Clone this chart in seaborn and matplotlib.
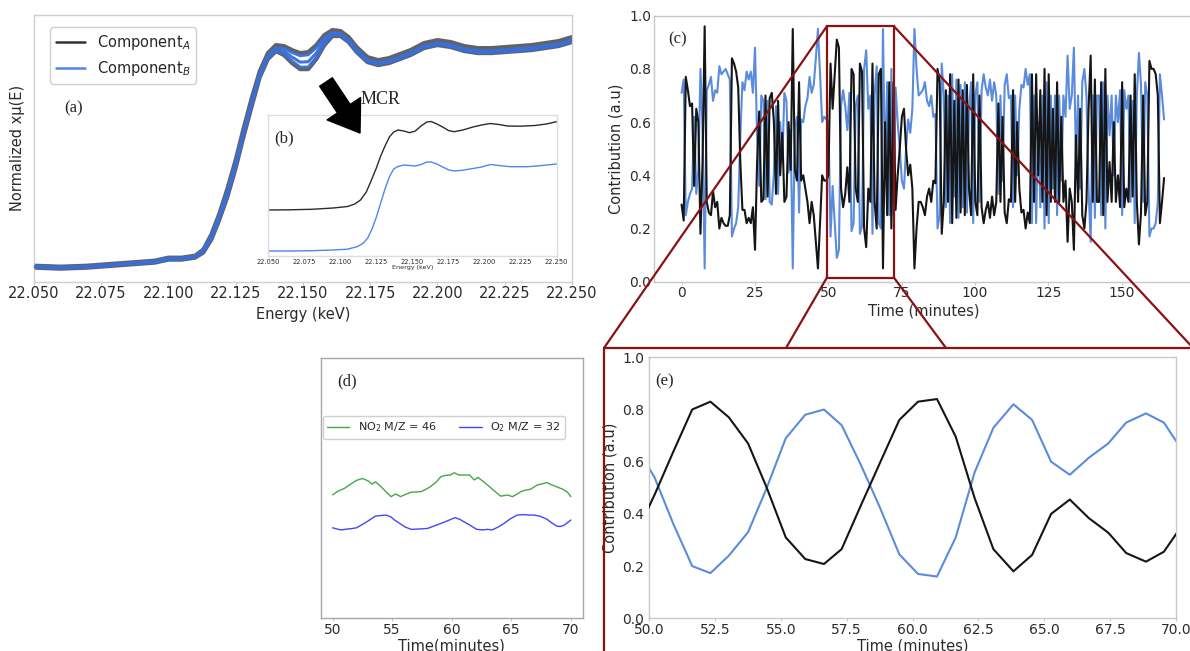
import numpy as np
import matplotlib
matplotlib.use("Agg")
import matplotlib.pyplot as plt
import seaborn as sns
from matplotlib.lines import Line2D
from matplotlib.patches import Rectangle, ConnectionPatch
from matplotlib.ticker import FormatStrFormatter, MultipleLocator

# ---------------------------------------------------------------- data
# (a) normalised XANES spectra, Component A (black) and Component B (blue)
ENERGY_A = [22.050, 22.060, 22.070, 22.080, 22.090, 22.095, 22.100, 22.105,
            22.110, 22.113, 22.116, 22.119, 22.122, 22.125, 22.128, 22.131,
            22.134, 22.137, 22.140, 22.143, 22.146, 22.149, 22.152, 22.155,
            22.158, 22.161, 22.164, 22.167, 22.170, 22.174, 22.178, 22.182,
            22.186, 22.190, 22.195, 22.200, 22.205, 22.210, 22.215, 22.220,
            22.225, 22.230, 22.235, 22.240, 22.245, 22.250]
SPEC_A_UPPER = [0.005, 0.000, 0.005, 0.015, 0.025, 0.030, 0.045, 0.045,
                0.055, 0.085, 0.160, 0.265, 0.390, 0.530, 0.690, 0.840,
                0.975, 1.065, 1.105, 1.100, 1.080, 1.065, 1.070, 1.105,
                1.155, 1.180, 1.175, 1.145, 1.095, 1.045, 1.030, 1.040,
                1.060, 1.080, 1.115, 1.130, 1.120, 1.100, 1.090, 1.090,
                1.095, 1.100, 1.105, 1.115, 1.125, 1.145]
SPEC_A_LOWER = [-0.005, -0.010, -0.005, 0.005, 0.015, 0.020, 0.035, 0.035,
                0.045, 0.070, 0.135, 0.235, 0.350, 0.490, 0.650, 0.800,
                0.945, 1.035, 1.075, 1.055, 1.015, 0.985, 0.985, 1.035,
                1.105, 1.150, 1.150, 1.120, 1.070, 1.020, 1.005, 1.015,
                1.035, 1.055, 1.090, 1.105, 1.095, 1.075, 1.065, 1.065,
                1.070, 1.075, 1.080, 1.090, 1.100, 1.120]
SPEC_B_1 = [0.002, -0.003, 0.002, 0.012, 0.022, 0.028, 0.042, 0.042,
            0.052, 0.082, 0.152, 0.255, 0.375, 0.515, 0.675, 0.825,
            0.962, 1.052, 1.092, 1.088, 1.068, 1.052, 1.057, 1.092,
            1.142, 1.167, 1.162, 1.132, 1.082, 1.032, 1.017, 1.027,
            1.047, 1.067, 1.102, 1.117, 1.107, 1.087, 1.077, 1.077,
            1.082, 1.087, 1.092, 1.102, 1.112, 1.132]
SPEC_B_2 = [0.000, -0.005, 0.000, 0.010, 0.020, 0.025, 0.040, 0.040,
            0.050, 0.080, 0.150, 0.250, 0.370, 0.510, 0.670, 0.820,
            0.960, 1.050, 1.090, 1.075, 1.045, 1.020, 1.022, 1.065,
            1.125, 1.162, 1.158, 1.128, 1.078, 1.028, 1.013, 1.023,
            1.043, 1.063, 1.098, 1.113, 1.103, 1.083, 1.073, 1.073,
            1.078, 1.083, 1.088, 1.098, 1.108, 1.128]
SPEC_B_3 = [-0.003, -0.008, -0.003, 0.007, 0.017, 0.022, 0.037, 0.037,
            0.047, 0.075, 0.142, 0.242, 0.360, 0.500, 0.660, 0.810,
            0.952, 1.042, 1.080, 1.062, 1.025, 0.995, 0.995, 1.042,
            1.110, 1.155, 1.153, 1.123, 1.073, 1.023, 1.008, 1.018,
            1.038, 1.058, 1.093, 1.108, 1.098, 1.078, 1.068, 1.068,
            1.073, 1.078, 1.083, 1.093, 1.103, 1.123]

# (b) resolved pure-component spectra from MCR
ENERGY_B_BLACK = [22.050, 22.065, 22.080, 22.095, 22.105, 22.110, 22.114, 22.118,
                  22.121, 22.125, 22.128, 22.131, 22.134, 22.137, 22.140, 22.144,
                  22.148, 22.152, 22.156, 22.160, 22.163, 22.167, 22.171, 22.175,
                  22.179, 22.185, 22.192, 22.198, 22.204, 22.210, 22.216, 22.225,
                  22.235, 22.243, 22.250]
MCR_A = [0.460, 0.462, 0.467, 0.480, 0.495, 0.520, 0.560, 0.640,
         0.740, 0.880, 1.000, 1.100, 1.190, 1.240, 1.260, 1.250,
         1.233, 1.250, 1.300, 1.340, 1.345, 1.320, 1.290, 1.255,
         1.243, 1.260, 1.290, 1.310, 1.325, 1.315, 1.300, 1.298,
         1.305, 1.320, 1.343]
ENERGY_B_BLUE = [22.050, 22.065, 22.080, 22.095, 22.105, 22.112, 22.116, 22.119,
                 22.122, 22.125, 22.128, 22.131, 22.134, 22.137, 22.140, 22.144,
                 22.148, 22.152, 22.156, 22.160, 22.163, 22.167, 22.171, 22.175,
                 22.179, 22.185, 22.192, 22.198, 22.204, 22.210, 22.218, 22.230,
                 22.240, 22.250]
MCR_B = [0.050, 0.050, 0.053, 0.060, 0.068, 0.095, 0.130, 0.180,
         0.270, 0.390, 0.530, 0.670, 0.790, 0.870, 0.895, 0.910,
         0.905, 0.900, 0.915, 0.940, 0.940, 0.920, 0.890, 0.862,
         0.850, 0.858, 0.875, 0.890, 0.915, 0.905, 0.893, 0.893,
         0.905, 0.920]

# (c) contributions over the whole run, sampled every 0.715 min
C_STEP = 0.715
C_BLACK = [0.29, 0.23, 0.77, 0.72, 0.66, 0.67, 0.36, 0.65, 0.60, 0.18,
           0.45, 0.96, 0.30, 0.26, 0.25, 0.34, 0.28, 0.30, 0.20, 0.24,
           0.22, 0.21, 0.21, 0.25, 0.84, 0.82, 0.79, 0.73, 0.45, 0.27,
           0.27, 0.22, 0.24, 0.22, 0.28, 0.12, 0.45, 0.64, 0.30, 0.31,
           0.70, 0.32, 0.69, 0.71, 0.60, 0.33, 0.68, 0.40, 0.56, 0.30,
           0.32, 0.60, 0.42, 0.95, 0.42, 0.38, 0.75, 0.38, 0.40, 0.35,
           0.30, 0.22, 0.30, 0.25, 0.15, 0.05, 0.22, 0.40, 0.38, 0.38,
           0.40, 0.82, 0.65, 0.78, 0.91, 0.88, 0.35, 0.28, 0.33, 0.43,
           0.30, 0.80, 0.78, 0.35, 0.30, 0.82, 0.79, 0.20, 0.13, 0.35,
           0.30, 0.82, 0.30, 0.20, 0.78, 0.80, 0.05, 0.60, 0.25, 0.75,
           0.20, 0.75, 0.27, 0.40, 0.50, 0.62, 0.65, 0.50, 0.40, 0.44,
           0.35, 0.05, 0.20, 0.30, 0.30, 0.28, 0.25, 0.32, 0.35, 0.30,
           0.38, 0.37, 0.80, 0.75, 0.18, 0.30, 0.72, 0.30, 0.78, 0.22,
           0.68, 0.24, 0.76, 0.26, 0.72, 0.25, 0.74, 0.35, 0.25, 0.78,
           0.30, 0.25, 0.70, 0.28, 0.22, 0.27, 0.30, 0.24, 0.32, 0.25,
           0.30, 0.67, 0.30, 0.62, 0.26, 0.22, 0.31, 0.30, 0.72, 0.30,
           0.60, 0.35, 0.26, 0.27, 0.20, 0.26, 0.22, 0.78, 0.30, 0.78,
           0.40, 0.72, 0.30, 0.80, 0.25, 0.78, 0.30, 0.65, 0.30, 0.75,
           0.30, 0.62, 0.30, 0.38, 0.15, 0.35, 0.30, 0.12, 0.55, 0.30,
           0.65, 0.25, 0.20, 0.30, 0.65, 0.85, 0.30, 0.76, 0.30, 0.30,
           0.75, 0.25, 0.80, 0.30, 0.45, 0.30, 0.60, 0.30, 0.40, 0.28,
           0.75, 0.28, 0.35, 0.30, 0.70, 0.32, 0.78, 0.30, 0.14, 0.26,
           0.70, 0.25, 0.30, 0.83, 0.80, 0.80, 0.78, 0.70, 0.22, 0.30, 0.39]
C_BLUE = [0.71, 0.76, 0.25, 0.30, 0.33, 0.35, 0.62, 0.33, 0.42, 0.80,
          0.57, 0.05, 0.72, 0.74, 0.77, 0.68, 0.72, 0.71, 0.81, 0.78,
          0.79, 0.80, 0.78, 0.76, 0.17, 0.20, 0.22, 0.28, 0.55, 0.75,
          0.72, 0.79, 0.76, 0.79, 0.71, 0.88, 0.55, 0.36, 0.70, 0.68,
          0.31, 0.68, 0.30, 0.29, 0.41, 0.66, 0.33, 0.60, 0.45, 0.71,
          0.68, 0.41, 0.57, 0.05, 0.58, 0.62, 0.26, 0.61, 0.60, 0.66,
          0.69, 0.77, 0.71, 0.74, 0.84, 0.95, 0.78, 0.60, 0.62, 0.61,
          0.60, 0.17, 0.36, 0.22, 0.09, 0.12, 0.66, 0.72, 0.66, 0.57,
          0.71, 0.19, 0.22, 0.66, 0.70, 0.18, 0.21, 0.80, 0.87, 0.65,
          0.70, 0.18, 0.70, 0.81, 0.22, 0.20, 0.95, 0.40, 0.75, 0.25,
          0.80, 0.25, 0.73, 0.60, 0.50, 0.38, 0.35, 0.50, 0.61, 0.56,
          0.65, 0.95, 0.80, 0.70, 0.71, 0.72, 0.75, 0.68, 0.66, 0.70,
          0.62, 0.63, 0.20, 0.25, 0.82, 0.70, 0.28, 0.70, 0.22, 0.78,
          0.32, 0.76, 0.24, 0.74, 0.28, 0.75, 0.26, 0.65, 0.75, 0.22,
          0.70, 0.75, 0.30, 0.72, 0.78, 0.73, 0.70, 0.76, 0.68, 0.75,
          0.70, 0.33, 0.70, 0.38, 0.74, 0.78, 0.69, 0.70, 0.28, 0.70,
          0.40, 0.65, 0.74, 0.73, 0.80, 0.74, 0.78, 0.22, 0.70, 0.22,
          0.60, 0.28, 0.70, 0.20, 0.75, 0.22, 0.70, 0.35, 0.70, 0.25,
          0.70, 0.38, 0.70, 0.62, 0.85, 0.65, 0.70, 0.88, 0.45, 0.70,
          0.35, 0.75, 0.80, 0.70, 0.35, 0.15, 0.70, 0.24, 0.70, 0.70,
          0.25, 0.75, 0.20, 0.70, 0.55, 0.70, 0.40, 0.70, 0.60, 0.72,
          0.25, 0.72, 0.65, 0.70, 0.30, 0.68, 0.22, 0.70, 0.86, 0.74,
          0.30, 0.75, 0.70, 0.17, 0.20, 0.20, 0.22, 0.30, 0.78, 0.70, 0.61]

# (d) mass-spectrometer signals, 50-70 min
MS_TIME_NO2 = [50.0, 50.5, 51.0, 51.5, 52.0, 52.5, 53.0, 53.3, 53.6, 54.0,
               54.5, 54.9, 55.3, 55.7, 56.2, 56.6, 57.0, 57.4, 57.8, 58.2,
               58.7, 59.1, 59.5, 59.9, 60.2, 60.6, 61.0, 61.5, 61.9, 62.2,
               62.6, 63.0, 63.5, 64.1, 64.7, 65.1, 65.5, 65.8, 66.2, 66.6,
               67.2, 67.6, 68.0, 68.4, 68.8, 69.3, 69.7, 70.0]
MS_NO2 = [0.475, 0.490, 0.500, 0.516, 0.530, 0.538, 0.528, 0.516, 0.525, 0.509,
          0.486, 0.468, 0.478, 0.468, 0.478, 0.485, 0.486, 0.487, 0.495, 0.506,
          0.524, 0.545, 0.550, 0.551, 0.560, 0.551, 0.551, 0.551, 0.532, 0.542,
          0.528, 0.513, 0.493, 0.470, 0.474, 0.468, 0.478, 0.487, 0.493, 0.496,
          0.513, 0.517, 0.522, 0.513, 0.506, 0.497, 0.486, 0.468]
MS_TIME_O2 = [50.0, 50.4, 50.7, 51.2, 51.6, 52.0, 52.5, 52.9, 53.3, 53.6,
              54.0, 54.5, 54.9, 55.2, 55.7, 56.1, 56.6, 57.0, 57.5, 58.0,
              58.5, 59.1, 59.6, 60.0, 60.3, 60.7, 61.0, 61.5, 62.1, 62.6,
              63.0, 63.4, 63.9, 64.4, 64.9, 65.5, 66.0, 66.5, 66.9, 67.4,
              68.0, 68.4, 68.8, 69.1, 69.4, 69.7, 70.0]
MS_O2 = [0.348, 0.343, 0.340, 0.343, 0.345, 0.348, 0.361, 0.372, 0.384, 0.393,
         0.395, 0.397, 0.390, 0.378, 0.363, 0.351, 0.342, 0.343, 0.344, 0.346,
         0.355, 0.365, 0.374, 0.382, 0.387, 0.380, 0.372, 0.359, 0.342, 0.340,
         0.342, 0.340, 0.351, 0.365, 0.382, 0.397, 0.399, 0.397, 0.397, 0.393,
         0.381, 0.367, 0.355, 0.353, 0.357, 0.367, 0.378]

# (e) contributions, 50-70 min window
E_TIME = [49.50, 50.21, 50.93, 51.64, 52.33, 53.03, 53.76, 54.47, 55.19, 55.93,
          56.64, 57.31, 58.03, 58.74, 59.50, 60.21, 60.93, 61.64, 62.36, 63.07,
          63.83, 64.54, 65.26, 65.97, 66.69, 67.43, 68.11, 68.86, 69.54, 70.26]
E_BLACK = [0.320, 0.473, 0.640, 0.800, 0.830, 0.770, 0.670, 0.500, 0.310, 0.227,
           0.208, 0.265, 0.430, 0.590, 0.760, 0.830, 0.840, 0.696, 0.460, 0.265,
           0.180, 0.243, 0.400, 0.455, 0.384, 0.328, 0.250, 0.217, 0.255, 0.360]
E_BLUE = [0.660, 0.540, 0.360, 0.200, 0.173, 0.240, 0.330, 0.500, 0.690, 0.780,
          0.800, 0.740, 0.590, 0.430, 0.245, 0.170, 0.160, 0.310, 0.560, 0.730,
          0.820, 0.760, 0.600, 0.550, 0.615, 0.670, 0.750, 0.785, 0.750, 0.640]

# ---------------------------------------------------------------- style
sns.set_style("ticks")
plt.rcParams.update({
    "font.family": ["DejaVu Sans"],
    "axes.edgecolor": "#c8c8c8",
    "axes.linewidth": 1.0,
    "xtick.color": "#c8c8c8",
    "ytick.color": "#c8c8c8",
    "xtick.labelcolor": "#2b2b2b",
    "ytick.labelcolor": "#2b2b2b",
    "axes.labelcolor": "#2b2b2b",
    "xtick.major.size": 2.0,
    "ytick.major.size": 1.0,
    "xtick.major.pad": 1.3,
    "ytick.major.pad": 1.0,
    "legend.edgecolor": "#d0d0d0",
})

W, H = 1190, 651
fig = plt.figure(figsize=(W / 100, H / 100), dpi=100)


def px_axes(left, top, right, bottom):
    return fig.add_axes([left / W, 1 - bottom / H, (right - left) / W, (bottom - top) / H])


def draw(ax, x, y, color, lw, alpha=1.0, zorder=2):
    sns.lineplot(x=np.asarray(x, float), y=np.asarray(y, float), ax=ax, color=color,
                 linewidth=lw, alpha=alpha, zorder=zorder, legend=False)


SERIF = "Liberation Serif"
BLACK = "#151515"
BLUE_C = "#5b8cdc"
DARKRED = "#8b1212"

# ---------------------------------------------------------------- (a)
ax_a = px_axes(33.7, 15, 572, 281.7)
for trace in (SPEC_A_UPPER, SPEC_A_LOWER):
    draw(ax_a, ENERGY_A, trace, "#2e2e2e", 3.0, alpha=0.75)
for trace in (SPEC_B_1, SPEC_B_2, SPEC_B_3):
    draw(ax_a, ENERGY_A, trace, "#3a6fd8", 2.2, alpha=0.95, zorder=3)
ax_a.set_xlim(22.05, 22.25)
ax_a.set_ylim(-0.075, 1.255)
ax_a.xaxis.set_major_locator(MultipleLocator(0.025))
ax_a.xaxis.set_major_formatter(FormatStrFormatter("%.3f"))
ax_a.set_yticks([])
ax_a.tick_params(axis="x", labelsize=10.5)
ax_a.set_xlabel("Energy (keV)", fontsize=10.5)
ax_a.set_ylabel("Normalized x\u03bc(E)", fontsize=10.5, labelpad=6)
handles = [Line2D([], [], color="#333333", lw=1.8),
           Line2D([], [], color="#4f86e8", lw=1.8)]
ax_a.legend(handles, ["Component$_A$", "Component$_B$"], loc="upper left",
            bbox_to_anchor=(0.030, 0.955), borderaxespad=0, fontsize=10.5,
            frameon=True, framealpha=1.0)
for side in ax_a.spines.values():
    side.set_color("#cfcfcf")

# ---------------------------------------------------------------- (b) inset
ax_b = px_axes(268.3, 115, 556.5, 256)
draw(ax_b, ENERGY_B_BLACK, MCR_A, "#2b2b2b", 1.0)
draw(ax_b, ENERGY_B_BLUE, MCR_B, "#4f86f0", 1.0)
ax_b.set_xlim(22.05, 22.25)
ax_b.set_ylim(0, 1.41)
ax_b.xaxis.set_major_locator(MultipleLocator(0.025))
ax_b.xaxis.set_major_formatter(FormatStrFormatter("%.3f"))
ax_b.set_yticks([])
ax_b.tick_params(axis="x", labelsize=4.8, length=1, pad=1)
ax_b.set_xlabel("Energy (keV)", fontsize=4.6, labelpad=0.5)
for side in ax_b.spines.values():
    side.set_color("#dedede")

ax_b.annotate("", xy=(360, H - 133), xytext=(326, H - 82),
              xycoords="figure pixels", textcoords="figure pixels",
              annotation_clip=False,
              arrowprops=dict(arrowstyle="simple,head_width=1.45,head_length=1.05,tail_width=0.55",
                              mutation_scale=20, color="black", shrinkA=0, shrinkB=0))
fig.text(361 / W, 1 - 100 / H, "MCR", family=SERIF, fontsize=13, va="center", ha="left")
fig.text(74 / W, 1 - 108 / H, "(a)", family=SERIF, fontsize=12, va="center", ha="center")
fig.text(284 / W, 1 - 138 / H, "(b)", family=SERIF, fontsize=12, va="center", ha="center")

# ---------------------------------------------------------------- (c)
ax_c = px_axes(654, 15.7, 1193, 281.7)
c_time = np.arange(len(C_BLACK)) * C_STEP
draw(ax_c, c_time, C_BLUE, BLUE_C, 1.5)
draw(ax_c, c_time, C_BLACK, BLACK, 1.5, zorder=3)
ax_c.set_xlim(-9.4, 174.3)
ax_c.set_ylim(0, 1.0)
ax_c.xaxis.set_major_locator(MultipleLocator(25))
ax_c.yaxis.set_major_locator(MultipleLocator(0.2))
ax_c.yaxis.set_major_formatter(FormatStrFormatter("%.1f"))
ax_c.tick_params(labelsize=10)
ax_c.set_xlabel("Time (minutes)", fontsize=10.5, labelpad=2)
ax_c.set_ylabel("Contribution (a.u)", fontsize=10.5)
ax_c.spines["right"].set_visible(False)
fig.text(678 / W, 1 - 39 / H, "(c)", family=SERIF, fontsize=12, va="center", ha="center")

zoom_t0, zoom_t1, zoom_lo, zoom_hi = 49.5, 72.4, 0.015, 0.96
ax_c.add_patch(Rectangle((zoom_t0, zoom_lo), zoom_t1 - zoom_t0, zoom_hi - zoom_lo,
                         fill=False, edgecolor=DARKRED, lw=1.6, zorder=6))

# ---------------------------------------------------------------- (d)
ax_d = px_axes(320.7, 358.3, 582.7, 618.3)
draw(ax_d, MS_TIME_NO2, MS_NO2, "#45a845", 1.0)
draw(ax_d, MS_TIME_O2, MS_O2, "#4646f5", 1.0)
ax_d.set_xlim(49, 71)
ax_d.set_ylim(0, 1)
ax_d.set_xticks([50, 55, 60, 65, 70])
ax_d.set_yticks([])
ax_d.tick_params(labelsize=10)
ax_d.set_xlabel("Time(minutes)", fontsize=10.5, labelpad=1)
for side in ax_d.spines.values():
    side.set_color("#a8a8a8")
ms_handles = [Line2D([], [], color="#45a845", lw=1.0), Line2D([], [], color="#4646f5", lw=1.0)]
ax_d.legend(ms_handles, ["NO$_2$ M/Z = 46", "O$_2$ M/Z = 32"], ncol=2, loc="upper left",
            bbox_to_anchor=(0.008, 0.778), borderaxespad=0, fontsize=8,
            frameon=True, framealpha=1.0, columnspacing=2.0)
fig.text(347 / W, 1 - 381.7 / H, "(d)", family=SERIF, fontsize=12, va="center", ha="center")

# ---------------------------------------------------------------- (e)
ax_e = px_axes(649, 357.3, 1176, 618.3)
draw(ax_e, E_TIME, E_BLUE, BLUE_C, 1.5)
draw(ax_e, E_TIME, E_BLACK, BLACK, 1.5, zorder=3)
ax_e.set_xlim(50, 70)
ax_e.set_ylim(0, 1.0)
ax_e.xaxis.set_major_locator(MultipleLocator(2.5))
ax_e.xaxis.set_major_formatter(FormatStrFormatter("%.1f"))
ax_e.yaxis.set_major_locator(MultipleLocator(0.2))
ax_e.yaxis.set_major_formatter(FormatStrFormatter("%.1f"))
ax_e.tick_params(labelsize=10)
ax_e.tick_params(axis="y", pad=2.5)
ax_e.set_xlabel("Time (minutes)", fontsize=10.5, labelpad=1)
ax_e.set_ylabel("Contribution (a.u)", fontsize=10.5, labelpad=3)
fig.text(665 / W, 1 - 381 / H, "(e)", family=SERIF, fontsize=12, va="center", ha="center")

# frame around the zoomed panel and the connecting guide lines
frame_left, frame_top = 604, H - 348
fig.add_artist(Rectangle((frame_left, -10), 620, frame_top + 10, fill=False,
                         edgecolor=DARKRED, lw=1.6, transform=None, zorder=6))
guides = [((zoom_t0, zoom_hi), (frame_left, frame_top)),
          ((zoom_t1, zoom_hi), (1195, frame_top - 2)),
          ((zoom_t0, zoom_lo), (786, frame_top)),
          ((zoom_t1, zoom_lo), (946, frame_top))]
for xy_a, xy_b in guides:
    fig.add_artist(ConnectionPatch(xyA=xy_a, coordsA=ax_c.transData,
                                   xyB=xy_b, coordsB="figure pixels",
                                   color=DARKRED, lw=1.6, zorder=6))

fig.savefig("out.png", dpi=100)
